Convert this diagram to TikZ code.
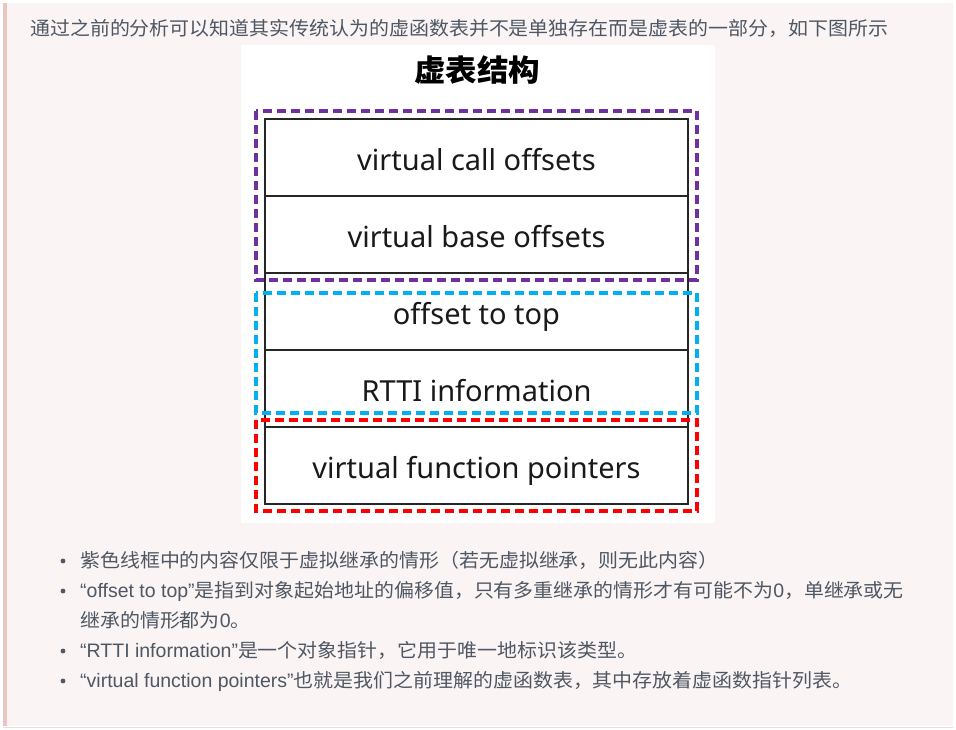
\documentclass[tikz,border=0pt]{standalone}
\usepackage{fontspec}
\setmainfont{Noto Sans}
\newfontfamily\cjk[FakeStretch=1.05]{Noto Sans CJK SC}
\newfontfamily\latn{Liberation Sans}
\definecolor{panelbg}{HTML}{FAF4F4}
\definecolor{leftbar}{HTML}{E8C6C2}
\definecolor{bodytext}{HTML}{4E5763}
\definecolor{frameviolet}{HTML}{7030A0}
\definecolor{framecyan}{HTML}{00B0F0}
\definecolor{framered}{HTML}{FF0000}
\definecolor{rowline}{HTML}{262626}
\newcommand{\lt}[1]{{\latn\fontsize{19.5}{24}\selectfont #1}}
\tikzset{
  row/.style={draw=rowline, line width=1.8pt, minimum width=423pt, minimum height=77pt,
    inner sep=0pt, text height=26pt, text depth=-3pt, font=\fontsize{29}{33}\selectfont, text=black!90},
  frame/.style={line width=3.4pt, dash pattern=on 9pt off 5pt},
  para/.style={anchor=base west, inner sep=0pt, text=bodytext, font=\cjk\fontsize{19}{24}\selectfont},
  dot/.style={fill=bodytext, draw=none}
}
\begin{document}
\begin{tikzpicture}[x=1pt, y=-1pt]
  \useasboundingbox (0,0) rectangle (956,729);
  % page panel
  \fill[white] (0,0) rectangle (956,729);
  \fill[panelbg] (3,3) rectangle (953,726);
  \fill[leftbar] (3,3) rectangle (7,726);
  \draw[black!12] (3,727) -- (953,727);
  \node[para] (intro) at (30,35.5) {通过之前的分析可以知道其实传统认为的虚函数表并不是单独存在而是虚表的一部分，如下图所示};
  % picture
  \fill[white] (241,45) rectangle (715,523);
  \node[font=\cjk\bfseries\fontsize{30}{34}\selectfont] (title) at (477,70) {虚表结构};
  \foreach \name/\txt/\y in {call/virtual call offsets/157.5, base/virtual base offsets/234.5,
      top/offset to top/311.5, rtti/RTTI information/388.5, vfp/virtual function pointers/465.5}
    \node[row] (\name) at (476.5,\y) {\txt};
  \draw[frame, frameviolet] (256,111) rectangle (697,280);
  \draw[frame, framecyan] (256,293) rectangle (697,413);
  \draw[frame, framered] (256,420) rectangle (697,511);
  % notes
  \foreach \y in {561,591,651,681}
    \fill[dot] (63,\y) circle (2.4pt);
  \node[para] (noteA) at (80,567) {紫色线框中的内容仅限于虚拟继承的情形（若无虚拟继承，则无此内容）};
  \node[para] (noteB) at (80,597) {\lt{“offset to top”}是指到对象起始地址的偏移值，只有多重继承的情形才有可能不为\lt{0}，单继承或无};
  \node[para] (noteC) at (80,627) {继承的情形都为\lt{0}。};
  \node[para] (noteD) at (80,657) {\lt{“RTTI information”}是一个对象指针，它用于唯一地标识该类型。};
  \node[para] (noteE) at (80,687) {\lt{“virtual function pointers”}也就是我们之前理解的虚函数表，其中存放着虚函数指针列表。};
\end{tikzpicture}
\end{document}
